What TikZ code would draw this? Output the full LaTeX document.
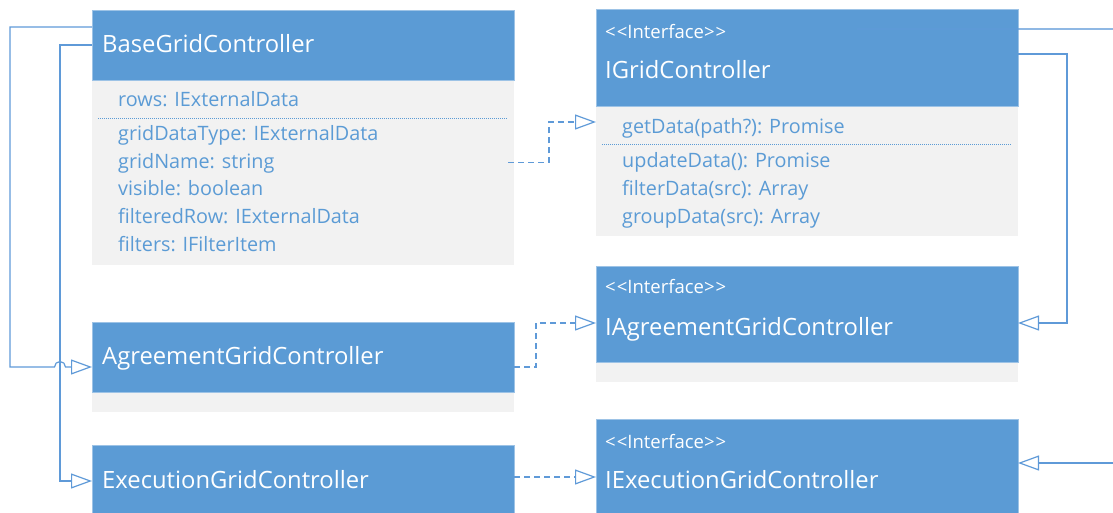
\documentclass[tikz,border=0pt]{standalone}
\usepackage{fontspec}
\setmainfont{Open Sans}
\usetikzlibrary{arrows.meta}
\definecolor{hblue}{HTML}{5B9BD5}
\definecolor{hedge}{HTML}{9DC3E6}
\definecolor{bgray}{HTML}{F2F2F2}
\definecolor{tblue}{HTML}{5B9BD5}
\definecolor{lblue}{HTML}{5F9AD8}
\newcommand{\stereotext}{<\kern1pt<Interface>\kern1pt>}
\tikzset{
  hdr/.style={fill=hblue, draw=hedge, line width=0.6pt, anchor=north west, inner sep=0pt, outer sep=0pt, minimum width=422pt},
  bodybox/.style={fill=bgray, draw=none, anchor=north west, inner sep=0pt, outer sep=0pt, minimum width=422pt},
  hname/.style={anchor=base west, inner sep=0pt, text=white, font=\fontsize{23.8}{26}\selectfont},
  stereo/.style={anchor=base west, inner sep=0pt, text=white, font=\fontsize{18.5}{21}\selectfont},
  field/.style={anchor=base west, inner sep=0pt, text=tblue, font=\fontsize{19.8}{22}\selectfont},
  sep/.style={draw=tblue, line width=0.9pt, dash pattern=on 1pt off 1pt},
  conn/.style={draw=lblue, line width=1.2pt},
  dconn/.style={conn, dash pattern=on 6pt off 4pt},
  tip/.style={-{Triangle[open, length=21pt, width=15pt, line width=1.2pt]}}
}
\begin{document}
\begin{tikzpicture}[x=1pt, y=-1pt]
\useasboundingbox (0,0) rectangle (1113,513);
% Base
\node[bodybox, minimum height=185pt] (baseB) at (92,80) {};
\node[hdr, minimum height=70pt] (baseH) at (92,10) {};
\node[hname] (baseN) at (102,52.5) {BaseGridController};
\node[field] (f1) at (118,107) {rows: IExternalData};
\draw[sep] (98,118) -- (508,118);
\node[field] (f2) at (118,141) {gridDataType: IExternalData};
\node[field] (f3) at (118,168.5) {gridName: string};
\node[field] (f4) at (118,196) {visible: boolean};
\node[field] (f5) at (118,223.5) {filteredRow: IExternalData};
\node[field] (f6) at (118,251) {filters: IFilterItem};
% IGrid
\node[bodybox, minimum height=130pt] (igB) at (596,106) {};
\node[hdr, minimum height=97pt] (igH) at (596,9) {};
\node[stereo] (igS) at (605,38.3) {\stereotext};
\node[hname] (igN) at (605,79) {IGridController};
\node[field] (g1) at (622,133.3) {getData(path?): Promise};
\draw[sep] (602,144) -- (1011,144);
\node[field] (g2) at (622,168) {updateData(): Promise};
\node[field] (g3) at (622,195.5) {filterData(src): Array};
\node[field] (g4) at (622,223) {groupData(src): Array};
% Agreement
\node[bodybox, minimum height=20pt] (agB) at (92,392) {};
\node[hdr, minimum height=70pt] (agH) at (92,322) {};
\node[hname] (agN) at (102,364) {AgreementGridController};
% IAgreement
\node[bodybox, minimum height=20pt] (iaB) at (596,362) {};
\node[hdr, minimum height=96pt] (iaH) at (596,266) {};
\node[stereo] (iaS) at (605,293.3) {\stereotext};
\node[hname] (iaN) at (605,335) {IAgreementGridController};
% Execution
\node[hdr, minimum height=75pt] (exH) at (92,445) {};
\node[hname] (exN) at (102,488) {ExecutionGridController};
% IExecution
\node[hdr, minimum height=100pt] (ieH) at (596,419) {};
\node[stereo] (ieS) at (605,448) {\stereotext};
\node[hname] (ieN) at (605,488) {IExecutionGridController};
% connectors
\coordinate (hop) at (54.5,367);
\draw[conn, tip] (baseH.west |- 0,27) -- (10,27) -- (10,367) -- (hop) arc[start angle=180, end angle=0, radius=5.5pt] -- (agH.west |- 0,367);
\draw[conn, tip] (baseH.west |- 0,45) -- (60,45) -- (60,481) -- (exH.west |- 0,481);
\coordinate (d1) at (508,162.5);
\draw[dconn, tip] (d1) -- (549,162.5) -- (549,122) -- (igB.west |- 0,122);
\draw[dconn, tip] (agH.east |- 0,367) -- (536,367) -- (536,323) -- (iaH.west |- 0,323);
\draw[dconn, tip] (exH.east |- 0,477) -- (ieH.west |- 0,477);
\draw[conn, tip] (igH.east |- 0,54) -- (1067,54) -- (1067,323) -- (iaH.east |- 0,323);
\coordinate (r1) at (857,29);
\coordinate (r2) at (1113,29);
\draw[conn, draw opacity=0.7] (r1) -- (r2);
\coordinate (r3) at (1113,463);
\draw[conn, tip] (r3) -- (ieH.east |- 0,463);
\end{tikzpicture}
\end{document}
